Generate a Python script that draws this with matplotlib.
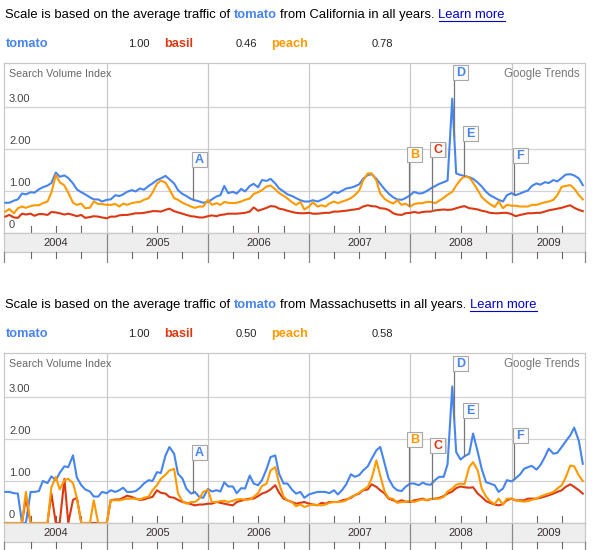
import numpy as np
import pandas as pd
import matplotlib
matplotlib.use('Agg')
import matplotlib.pyplot as plt
import matplotlib.dates as mdates
from matplotlib.patches import Rectangle
from matplotlib.lines import Line2D

plt.rcParams['font.family'] = ['Liberation Sans', 'DejaVu Sans']

W, H = 592, 550

# semi-monthly samples, Jan 2004 - Sep 2009
dates = pd.date_range('2004-01-01', '2009-09-15', freq='SMS')
terms = ['tomato', 'basil', 'peach']
colors = {'tomato': '#4684ee', 'basil': '#dc3912', 'peach': '#ff9900'}

ca_tomato = [0.72, 0.72, 0.77, 0.80, 0.94, 0.92, 0.97, 0.96, 1.04, 1.09,
             1.13, 1.19, 1.44, 1.34, 1.37, 1.31, 1.18, 1.04, 0.97, 0.92,
             0.85, 0.80, 0.80, 0.75, 0.79, 0.80, 0.90, 0.88, 0.92, 0.98,
             1.02, 0.99, 1.06, 1.03, 1.12, 1.18, 1.26, 1.30, 1.36, 1.28,
             1.18, 1.02, 0.93, 0.88, 0.81, 0.78, 0.75,
             0.72, 0.74, 0.80, 0.87, 0.90, 1.12, 0.95, 0.98, 0.94, 1.05,
             0.99, 1.12, 1.17, 1.09, 1.26, 1.24, 1.29, 1.18, 1.06, 0.99,
             0.92, 0.88, 0.83, 0.78, 0.75, 0.75, 0.78, 0.75, 0.79, 0.83,
             0.89, 0.98, 0.95, 1.01, 1.06, 1.08, 1.11, 1.16, 1.29, 1.38,
             1.40, 1.29, 1.17, 1.04, 0.94,
             0.85, 0.80, 0.79, 0.83, 0.90, 0.98, 0.94, 0.95, 1.00, 1.06,
             1.12, 1.17, 1.21, 1.25, 3.20, 1.42, 1.38, 1.36, 1.33, 1.29,
             1.20, 1.11, 0.98, 0.90, 0.84, 0.79, 0.75, 0.90, 0.95, 0.90,
             0.94, 0.98, 1.01, 1.12, 1.18, 1.15, 1.21, 1.19, 1.26, 1.23,
             1.31, 1.39, 1.40, 1.37, 1.30, 1.14]
ca_basil = [0.39, 0.43, 0.37, 0.36, 0.46, 0.44, 0.46, 0.41, 0.45, 0.45,
            0.43, 0.50, 0.49, 0.47, 0.44, 0.46, 0.43, 0.40, 0.43, 0.36,
            0.38, 0.40, 0.39, 0.37, 0.35, 0.39, 0.39, 0.42, 0.43, 0.43,
            0.45, 0.47, 0.47, 0.48, 0.50, 0.52, 0.52, 0.51, 0.55, 0.58,
            0.52, 0.49, 0.46, 0.43, 0.40, 0.39, 0.37,
            0.37, 0.40, 0.42, 0.40, 0.43, 0.44, 0.46, 0.46, 0.46, 0.47,
            0.48, 0.51, 0.61, 0.53, 0.56, 0.60, 0.64, 0.63, 0.58, 0.56,
            0.53, 0.50, 0.48, 0.47, 0.47, 0.48, 0.46, 0.46, 0.47, 0.48,
            0.48, 0.51, 0.51, 0.52, 0.53, 0.55, 0.56, 0.58, 0.63, 0.66,
            0.64, 0.63, 0.59, 0.58, 0.55,
            0.47, 0.44, 0.43, 0.47, 0.48, 0.50, 0.48, 0.50, 0.51, 0.51,
            0.54, 0.55, 0.56, 0.55, 0.56, 0.59, 0.62, 0.64, 0.59, 0.58,
            0.56, 0.53, 0.51, 0.48, 0.47, 0.47, 0.48, 0.48, 0.45, 0.40,
            0.43, 0.45, 0.47, 0.47, 0.48, 0.48, 0.51, 0.54, 0.56, 0.58,
            0.60, 0.63, 0.66, 0.60, 0.55, 0.52]
ca_peach = [0.51, 0.57, 0.47, 0.59, 0.63, 0.60, 0.64, 0.66, 0.66, 0.71,
            0.75, 0.96, 1.38, 1.21, 1.13, 0.96, 0.72, 0.67, 0.70, 0.59,
            0.60, 0.75, 0.69, 0.69, 0.67, 0.67, 0.69, 0.63, 0.70, 0.67,
            0.71, 0.73, 0.74, 0.79, 0.83, 0.96, 1.17, 1.25, 1.20, 1.04,
            0.83, 0.79, 0.72, 0.68, 0.63, 0.60, 0.63,
            0.63, 0.79, 0.67, 0.71, 0.67, 0.74, 0.72, 0.71, 0.72, 0.75,
            0.79, 0.82, 0.93, 0.97, 1.02, 1.11, 1.13, 1.04, 0.95, 0.89,
            0.82, 0.73, 0.67, 0.74, 0.56, 0.63, 0.73, 0.63, 0.66, 0.63,
            0.70, 0.75, 0.71, 0.75, 0.78, 0.83, 0.90, 1.01, 1.25, 1.42,
            1.42, 1.25, 0.94, 0.81, 0.75,
            0.70, 0.78, 0.67, 0.70, 0.63, 0.69, 0.71, 0.71, 0.74, 0.74,
            0.71, 0.77, 0.84, 0.91, 0.98, 1.13, 1.27, 1.35, 1.32, 1.20,
            1.02, 0.86, 0.76, 0.69, 0.62, 0.75, 0.59, 0.67, 0.65, 0.65,
            0.63, 0.63, 0.63, 0.67, 0.67, 0.70, 0.73, 0.75, 0.79, 0.90,
            1.10, 1.12, 1.14, 1.06, 0.90, 0.80]

ma_tomato = [0.74, 0.74, 0.71, 0.70, 0.00, 0.00, 0.74, 0.74, 0.76, 1.00,
             0.95, 1.11, 1.02, 1.19, 1.35, 1.33, 1.61, 1.08, 0.90, 0.80,
             0.75, 0.63, 0.63, 0.74, 0.71, 0.78, 0.74, 0.78, 0.84, 0.74,
             0.74, 0.76, 0.84, 0.94, 1.02, 1.00, 1.21, 1.19, 1.61, 1.81,
             1.65, 1.17, 1.06, 0.82, 0.70, 0.74, 0.62,
             0.60, 0.81, 0.75, 0.78, 0.75, 0.97, 0.87, 0.87, 0.71, 0.83,
             0.82, 1.13, 0.94, 0.90, 1.02, 1.29, 1.57, 1.61, 1.17, 0.94,
             0.94, 0.79, 0.70, 0.74, 0.60, 0.68, 0.71, 0.74, 0.74, 0.74,
             0.71, 0.78, 0.68, 0.79, 0.92, 1.16, 1.10, 1.14, 1.25, 1.35,
             1.53, 1.73, 1.81, 1.41, 1.06,
             0.86, 0.78, 0.76, 0.86, 0.94, 0.94, 0.90, 0.96, 0.92, 0.91,
             1.03, 1.10, 1.10, 1.40, 3.25, 1.69, 1.51, 1.59, 1.65, 2.13,
             1.69, 1.29, 0.97, 0.94, 0.90, 0.74, 0.82, 1.02, 0.99, 1.06,
             1.16, 1.29, 1.33, 1.36, 1.27, 1.38, 1.57, 1.77, 1.65, 1.67,
             1.81, 1.94, 2.09, 2.27, 1.95, 1.41]
ma_basil = [0.00, 0.00, 0.00, 0.00, 0.00, 0.60, 0.00, 0.00, 0.00, 0.00,
            0.00, 0.70, 0.00, 0.00, 1.05, 0.00, 0.55, 0.60, 0.00, 0.00,
            0.00, 0.00, 0.00, 0.00, 0.00, 0.54, 0.56, 0.56, 0.60, 0.65,
            0.62, 0.58, 0.55, 0.56, 0.60, 0.62, 0.78, 0.72, 0.70, 0.62,
            0.60, 0.55, 0.50, 0.48, 0.45, 0.42, 0.44,
            0.44, 0.46, 0.46, 0.50, 0.48, 0.46, 0.44, 0.42, 0.50, 0.53,
            0.56, 0.58, 0.58, 0.64, 0.70, 0.74, 0.80, 0.90, 0.72, 0.58,
            0.54, 0.50, 0.46, 0.48, 0.50, 0.46, 0.44, 0.42, 0.48, 0.46,
            0.50, 0.50, 0.50, 0.54, 0.56, 0.60, 0.66, 0.70, 0.78, 0.80,
            0.92, 0.86, 0.78, 0.70, 0.58,
            0.54, 0.50, 0.54, 0.51, 0.50, 0.54, 0.56, 0.58, 0.54, 0.57,
            0.58, 0.60, 0.64, 0.70, 0.75, 0.83, 0.87, 0.85, 0.84, 0.85,
            0.70, 0.62, 0.52, 0.48, 0.44, 0.42, 0.45, 0.54, 0.58, 0.54,
            0.54, 0.54, 0.58, 0.58, 0.58, 0.60, 0.63, 0.66, 0.70, 0.74,
            0.78, 0.86, 0.92, 0.86, 0.78, 0.70]
ma_peach = [0.00, 0.00, 0.00, 0.00, 0.00, 0.74, 0.00, 0.00, 0.00, 0.00,
            0.00, 0.85, 1.10, 0.80, 1.02, 1.05, 0.95, 0.60, 0.00, 0.00,
            0.00, 0.54, 0.00, 0.00, 0.00, 0.54, 0.54, 0.54, 0.56, 0.58,
            0.58, 0.58, 0.56, 0.60, 0.63, 0.78, 0.90, 1.05, 1.15, 1.25,
            1.29, 0.70, 0.52, 0.46, 0.50, 0.50, 0.58,
            0.74, 0.79, 0.50, 0.50, 0.52, 0.53, 0.50, 0.53, 0.56, 0.57,
            0.55, 0.56, 0.62, 0.71, 0.88, 0.94, 1.25, 1.33, 0.94, 0.63,
            0.54, 0.49, 0.40, 0.44, 0.38, 0.42, 0.44, 0.43, 0.42, 0.44,
            0.48, 0.50, 0.50, 0.51, 0.54, 0.62, 0.66, 0.72, 0.79, 0.86,
            1.06, 1.49, 1.13, 0.74, 0.60,
            0.57, 0.48, 0.50, 0.50, 0.53, 0.50, 0.54, 0.56, 0.55, 0.57,
            0.58, 0.58, 0.62, 0.75, 0.82, 0.91, 0.94, 0.92, 1.33, 1.45,
            1.25, 0.82, 0.63, 0.52, 0.45, 0.58, 0.44, 0.58, 0.58, 0.54,
            0.52, 0.51, 0.52, 0.55, 0.58, 0.63, 0.67, 0.70, 0.74, 0.82,
            0.90, 1.08, 1.37, 1.35, 1.13, 1.00]

ca_ratios = ['1.00', '0.46', '0.78']
ma_ratios = ['1.00', '0.50', '0.58']

flag_letters = ['A', 'B', 'C', 'D', 'E', 'F']
flag_terms = ['tomato', 'peach', 'basil', 'tomato', 'tomato', 'tomato']
flag_dates = pd.to_datetime(['2005-11-09', '2007-12-26', '2008-03-19',
                             '2008-06-08', '2008-07-14', '2009-01-11'])

fig = plt.figure(figsize=(W / 100, H / 100), dpi=100)
renderer = fig.canvas.get_renderer()

xmin = mdates.date2num(pd.Timestamp('2003-12-27'))
xmax = mdates.date2num(pd.Timestamp('2009-09-23'))
ppd = 581 / (xmax - xmin)   # pixels per day
upp = 1 / 42                # y units per pixel
ytop = 170 * upp
xnum = mdates.date2num(dates)
year_starts = [mdates.date2num(pd.Timestamp(f'{y}-01-01')) for y in range(2004, 2011)]
quarters = [mdates.date2num(pd.Timestamp(f'{y}-{m:02d}-01'))
            for y in range(2004, 2010) for m in (4, 7, 10)]
quarters = [q for q in quarters if q < xmax]


def px_rect(x0, y0, x1, y1):
    return [x0 / W, 1 - y1 / H, (x1 - x0) / W, (y1 - y0) / H]


def text_width(s, **kw):
    t = fig.text(0, 0, s, **kw)
    w = t.get_window_extent(renderer).width
    t.remove()
    return w


def draw_panel(off, region, vals, ratios, flag_levels):
    # header sentence
    y = 15 + off
    hs = 9.4
    base = dict(fontsize=hs, color='black')
    space = text_width('i i', **base) - text_width('ii', **base)
    pieces = [('Scale is based on the average traffic of', base),
              ('tomato', dict(fontsize=hs, color=colors['tomato'], fontweight='bold')),
              (f'from {region} in all years.', base),
              ('Learn more', dict(fontsize=hs, color='#0000cc'))]
    x = 5
    for s, kw in pieces:
        t = fig.text(x / W, 1 - y / H, s, ha='left', va='center', **kw)
        bb = t.get_window_extent(renderer)
        if s == 'Learn more':
            fig.add_artist(Line2D([bb.x0 / W, bb.x1 / W], [1 - (y + 6) / H] * 2,
                                  color='#0000cc', lw=0.8))
        x += bb.width + space

    # legend row
    y = 44 + off
    name_x = [6, 164, 271]
    num_x = [150, 257, 393]
    for term, nx, vx, r in zip(terms, name_x, num_x, ratios):
        fig.text(nx / W, 1 - y / H, term, ha='left', va='center', fontsize=9.2,
                 fontweight='bold', color=colors[term])
        fig.text(vx / W, 1 - y / H, r, ha='right', va='center', fontsize=8, color='#222222')

    # plot area
    ax = fig.add_axes(px_rect(4, 63 + off, 585, 233 + off))
    ax.set_xlim(xmin, xmax)
    ax.set_ylim(0, ytop)
    ax.set_xticks([])
    ax.set_yticks([])
    for sp in ax.spines.values():
        sp.set_color('#c8c8c8')
        sp.set_linewidth(0.9)
    for v in (1, 2, 3):
        ax.axhline(v, color='#d2d2d2', lw=0.9, zorder=0)
    for ys in year_starts[1:6]:
        ax.axvline(ys, color='#c8c8c8', lw=0.9, zorder=0)
    for q in quarters:
        ax.plot([q, q], [0, 7 * upp], color='#666666', lw=0.8, zorder=1)
    for v, lab in zip((3, 2, 1, 0), ('3.00', '2.00', '1.00', '0')):
        ax.text(xmin + 5 / ppd, v + 7.5 * upp, lab, ha='left', va='center',
                fontsize=8, color='#444444')
    ax.text(xmin + 5 / ppd, ytop - 11 * upp, 'Search Volume Index', ha='left',
            va='center', fontsize=7.7, color='#666666')
    ax.text(xmax - 5 / ppd, ytop - 11 * upp, 'Google Trends', ha='right',
            va='center', fontsize=8.3, color='#777777')

    for term in terms:
        ax.plot(xnum, vals[term], color=colors[term], lw=1.5, clip_on=False,
                solid_joinstyle='round', zorder=3)

    # event flags
    bw, bh = 15 / ppd, 15 * upp
    for letter, term, d, lev in zip(flag_letters, flag_terms, flag_dates, flag_levels):
        dn = mdates.date2num(d)
        yend = np.interp(dn, xnum, vals[term])
        ax.plot([dn, dn], [yend, lev], color='#777777', lw=0.9, zorder=6)
        x0 = dn - 1.5 / ppd
        ax.add_patch(Rectangle((x0 + 1.3 / ppd, lev - 1.3 * upp), bw, bh,
                               fc='#cfcfcf', ec='none', zorder=6))
        ax.add_patch(Rectangle((x0, lev), bw, bh, fc='#fbfbfb', ec='#a8a8a8',
                               lw=0.8, zorder=7))
        ax.text(x0 + bw / 2, lev + bh / 2 - 0.5 * upp, letter, ha='center', va='center',
                fontsize=9, fontweight='bold', color=colors[term], zorder=8)

    # year band
    bx = fig.add_axes(px_rect(4, 233 + off, 585, 252 + off))
    bx.set_xlim(xmin, xmax)
    bx.set_ylim(0, 1)
    bx.set_facecolor('#eeeeee')
    bx.set_xticks([])
    bx.set_yticks([])
    for sp in bx.spines.values():
        sp.set_color('#c8c8c8')
        sp.set_linewidth(0.9)
    for ys in year_starts[1:6]:
        bx.axvline(ys, color='#888888', lw=0.9)
    for a, b, yr in zip(year_starts[:-1], year_starts[1:], range(2004, 2010)):
        a, b = max(a, xmin), min(b, xmax)
        bx.text((a + b) / 2, 0.5, str(yr), ha='center', va='center', fontsize=8,
                color='#3a3030')

    # ticks under the band
    tx = fig.add_axes(px_rect(4, 252 + off, 585, 262 + off))
    tx.set_xlim(xmin, xmax)
    tx.set_ylim(0, 1)
    tx.axis('off')
    for ys in [xmin] + year_starts[1:6] + [xmax]:
        tx.plot([ys, ys], [0, 1], color='#888888', lw=0.9, clip_on=False)
    for q in quarters:
        tx.plot([q, q], [0.45, 1], color='#666666', lw=0.8, clip_on=False)


draw_panel(0, 'California',
           {'tomato': ca_tomato, 'basil': ca_basil, 'peach': ca_peach},
           ca_ratios, [1.58, 1.70, 1.82, 3.64, 2.20, 1.67])
draw_panel(290, 'Massachusetts',
           {'tomato': ma_tomato, 'basil': ma_basil, 'peach': ma_peach},
           ma_ratios, [1.50, 1.81, 1.67, 3.63, 2.50, 1.91])

fig.savefig('out.png', dpi=100)
